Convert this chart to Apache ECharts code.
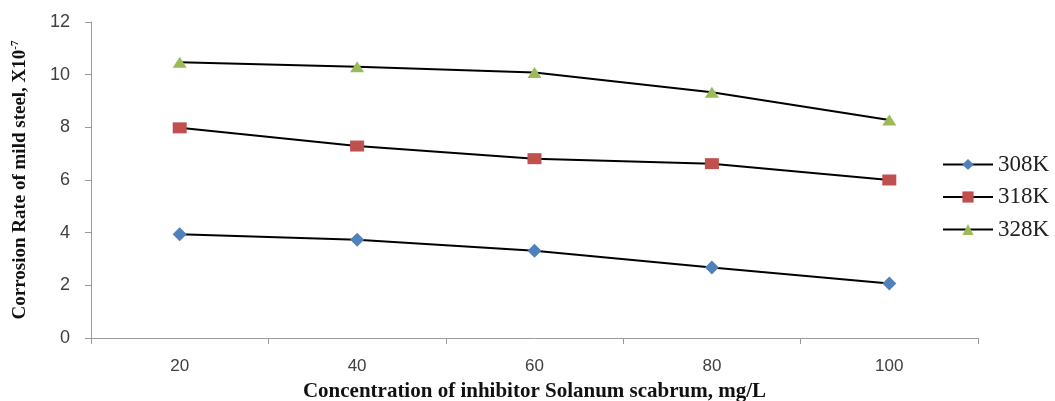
<!DOCTYPE html>
<html>
<head>
<meta charset="utf-8">
<script src="https://cdn.jsdelivr.net/npm/echarts@6/dist/echarts.min.js"></script>
<style>html,body{margin:0;padding:0;background:#fff;}#c{width:1055px;height:401px;}</style>
</head>
<body>
<div id="c"></div>
<script>
var categories = ['20', '40', '60', '80', '100'];
var s308 = [3.94, 3.73, 3.31, 2.68, 2.07];
var s318 = [7.98, 7.29, 6.81, 6.62, 6.0];
var s328 = [10.47, 10.3, 10.08, 9.33, 8.28];
var yTicks = [0, 2, 4, 6, 8, 10, 12];

var chart = echarts.init(document.getElementById('c'), null, {renderer: 'canvas'});
var axisColor = '#9a9a9a';
var labelColor = '#404040';
function mk(name, data, symbol, size, color) {
  return {
    name: name, type: 'line', data: data, symbol: symbol, symbolSize: size,
    showAllSymbol: true,
    lineStyle: {color: '#000', width: 2},
    itemStyle: {color: color, borderWidth: 0},
    emphasis: {disabled: true}, z: 3
  };
}
chart.setOption({
  animation: false,
  backgroundColor: '#fff',
  grid: {left: 91, right: 77, top: 22, bottom: 63, containLabel: false, outerBoundsMode: 'none'},
  legend: {
    orient: 'vertical', left: 942, top: 153, padding: 0,
    itemWidth: 50, itemHeight: 14, itemGap: 9.5,
    textStyle: {fontFamily: 'Liberation Serif', fontSize: 23, color: '#222'},
    data: ['308K', '318K', '328K']
  },
  xAxis: {
    type: 'category', data: categories, boundaryGap: true,
    name: 'Concentration of inhibitor Solanum scabrum, mg/L',
    nameLocation: 'middle', nameGap: 43,
    nameTextStyle: {fontFamily: 'Liberation Serif', fontWeight: 'bold', fontSize: 21, color: '#111'},
    axisLine: {lineStyle: {color: axisColor, width: 1}},
    axisTick: {show: true, inside: false, length: 6, lineStyle: {color: axisColor}},
    axisLabel: {fontFamily: 'Liberation Sans', fontSize: 17, color: labelColor, margin: 20},
    splitLine: {show: false}
  },
  yAxis: {
    type: 'value', min: yTicks[0], max: yTicks[yTicks.length - 1], interval: 2,
    name: '{n|Corrosion Rate of mild steel, X10}{s|-7}',
    nameLocation: 'middle', nameGap: 60, nameRotate: 90,
    nameTextStyle: {
      rich: {
        n: {fontFamily: 'Liberation Serif', fontWeight: 'bold', fontSize: 19, color: '#111'},
        s: {fontFamily: 'Liberation Serif', fontWeight: 'bold', fontSize: 11, color: '#111', verticalAlign: 'top', padding: [0, 0, 10, 0]}
      }
    },
    axisLine: {show: true, lineStyle: {color: axisColor, width: 1}},
    axisTick: {show: true, inside: false, length: 6, lineStyle: {color: axisColor}},
    axisLabel: {fontFamily: 'Liberation Sans', fontSize: 18, color: labelColor, margin: 21},
    splitLine: {show: false}
  },
  series: [
    mk('308K', s308, 'diamond', [14, 14], '#4F81BD'),
    mk('318K', s318, 'rect', [14, 11], '#C0504D'),
    mk('328K', s328, 'triangle', [14, 11], '#9BBB59')
  ]
});
</script>
</body>
</html>
